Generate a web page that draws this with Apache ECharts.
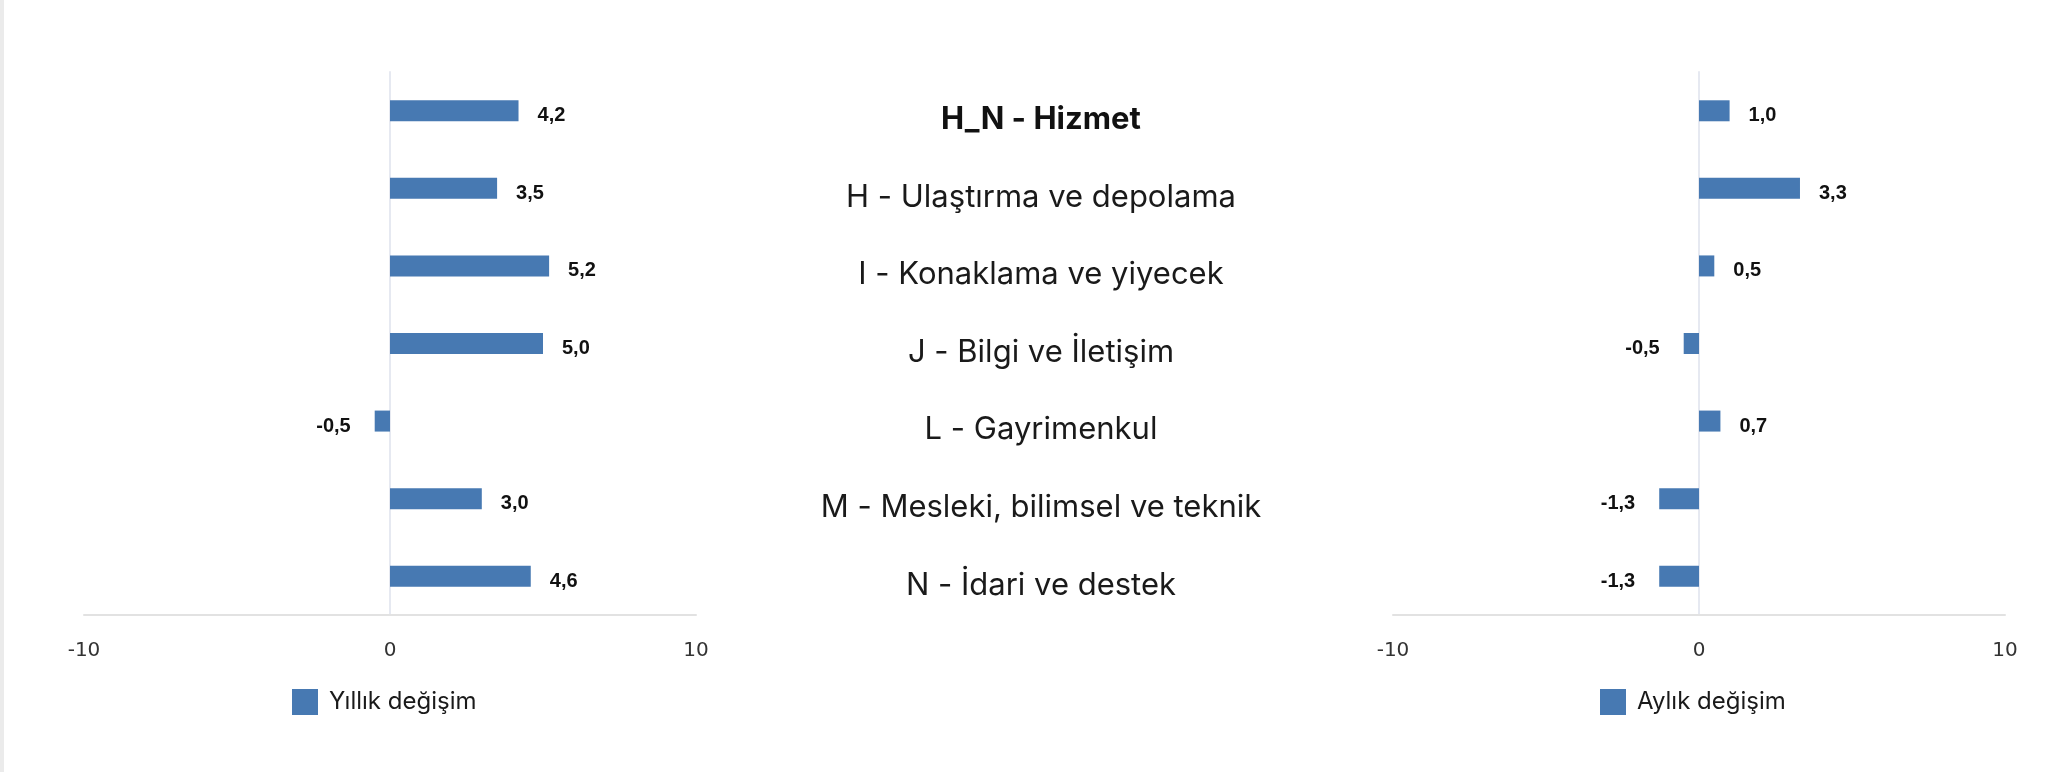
<!DOCTYPE html>
<html>
<head>
<meta charset="utf-8">
<script src="https://cdn.jsdelivr.net/npm/echarts@6/dist/echarts.min.js"></script>
<style>
html,body{margin:0;padding:0;background:#fff;}
#strip{position:absolute;left:0;top:0;width:4px;height:772px;background:#ebebeb;}
#c{width:2066px;height:772px;}
</style>
</head>
<body>
<div id="strip"></div>
<div id="c"></div>
<script>
const categories = ['H_N - Hizmet','H - Ulaştırma ve depolama','I - Konaklama ve yiyecek','J - Bilgi ve İletişim','L - Gayrimenkul','M - Mesleki, bilimsel ve teknik','N - İdari ve destek'];
const yillik = [4.2, 3.5, 5.2, 5.0, -0.5, 3.0, 4.6];
const aylik = [1.0, 3.3, 0.5, -0.5, 0.7, -1.3, -1.3];
const seriesNames = ['Yıllık değişim', 'Aylık değişim'];
const axisMin = -10, axisMax = 10, axisInterval = 10;

const barColor = '#4779b2';
const fmt = v => v.toFixed(1).replace('.', ',');
function mkData(arr){
  return arr.map(v => ({
    value: v,
    label: {position: v < 0 ? 'left' : 'right', distance: v < 0 ? 24 : 19}
  }));
}
const xAxisBase = gi => ({
  type:'value', gridIndex:gi, min:axisMin, max:axisMax, interval:axisInterval,
  splitLine:{show:false},
  axisLine:{show:true, lineStyle:{color:'#e2e2e2', width:2}},
  axisTick:{show:false},
  axisLabel:{color:'#333', fontSize:20, fontFamily:'DejaVu Sans', margin:26}
});
const legendText = {fontSize:24, fontFamily:'Inter', color:'#1a1a1a', padding:[0,0,0,6]};
const dataLabel = {show:true, formatter:p=>fmt(p.value), fontFamily:'Liberation Sans', fontWeight:'bold',
  fontSize:20, color:'#111', offset:[0,5]};
const chart = echarts.init(document.getElementById('c'));
chart.setOption({
  animation:false,
  grid:[
    {left:84, width:612, top:72, bottom:157},
    {left:1393, width:612, top:72, bottom:157}
  ],
  legend:[
    {data:[seriesNames[0]], left:287, top:684, itemWidth:26, itemHeight:26, icon:'rect', textStyle:legendText},
    {data:[seriesNames[1]], left:1595, top:684, itemWidth:26, itemHeight:26, icon:'rect', textStyle:legendText}
  ],
  xAxis:[xAxisBase(0), xAxisBase(1)],
  yAxis:[
    {type:'category', gridIndex:0, data:categories, inverse:true,
     axisLine:{show:true, onZero:true, lineStyle:{color:'#e6e9f1', width:2}},
     axisTick:{show:false}, axisLabel:{show:false}},
    {type:'category', gridIndex:1, data:categories, inverse:true,
     axisLine:{show:true, onZero:true, lineStyle:{color:'#e6e9f1', width:2}},
     axisTick:{show:false},
     axisLabel:{show:true, align:'center', margin:352, fontSize:31, fontFamily:'Inter', color:'#1a1a1a',
       padding:[18,0,0,0],
       formatter:(v,i)=> i===0 ? '{b|'+v+'}' : v,
       rich:{b:{fontSize:31, fontFamily:'Inter', fontWeight:'bold', color:'#111'}}}}
  ],
  series:[
    {name:seriesNames[0], type:'bar', xAxisIndex:0, yAxisIndex:0, data:mkData(yillik), barWidth:21,
     itemStyle:{color:barColor}, label:dataLabel},
    {name:seriesNames[1], type:'bar', xAxisIndex:1, yAxisIndex:1, data:mkData(aylik), barWidth:21,
     itemStyle:{color:barColor}, label:dataLabel}
  ]
});
</script>
</body>
</html>
